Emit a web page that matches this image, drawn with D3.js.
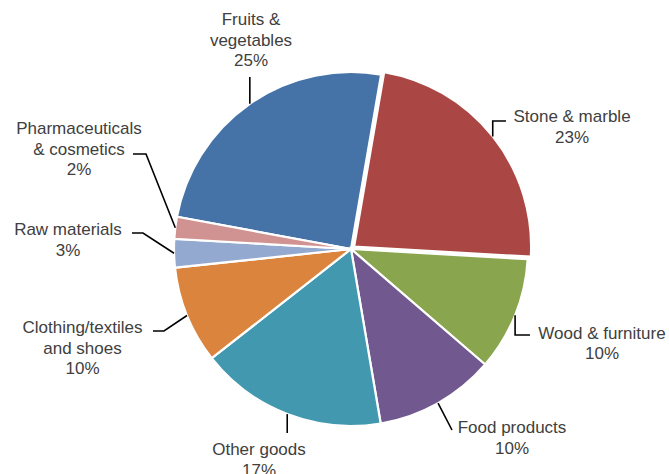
<!DOCTYPE html>
<html><head><meta charset="utf-8">
<script src="https://cdn.jsdelivr.net/npm/d3@7"></script>
<style>html,body{margin:0;padding:0;background:#fff;}svg{display:block;}</style>
</head><body>
<svg id="chart" width="669" height="474"></svg>
<script>
// ---- data ----
const categories = ["Fruits & vegetables","Stone & marble","Wood & furniture","Food products","Other goods","Clothing/textiles and shoes","Raw materials","Pharmaceuticals & cosmetics"];
const values = [24.8, 23.2, 10.4, 11.0, 17.1, 8.9, 2.6, 2.0];
const pctLabels = ["25%","23%","10%","10%","17%","10%","3%","2%"];
const labelLines = [["Fruits &","vegetables"],["Stone & marble"],["Wood & furniture"],["Food products"],["Other goods"],["Clothing/textiles","and shoes"],["Raw materials"],["Pharmaceuticals","& cosmetics"]];
const colors = ["#4572A7","#AA4643","#89A54E","#71588F","#4198AF","#DB843D","#93A9CF","#D19392"];

// ---- layout ----
const cx = 351, cy = 249, R = 177;
const explode = [0, 4, 0, 0, 0, 0, 0, 0];
const startDeg = -79.5;
const labelPos = [
  {x:251, y:25,  leader:[[null,77]]},
  {x:572, y:122, leader:[[null,121],[506,121]]},
  {x:602, y:338.5, leader:[[null,335],[530,335]]},
  {x:512, y:433, leader:[[452,430]]},
  {x:259, y:455, leader:[[null,433]]},
  {x:82.5, y:333, leader:[[164,331],[153,331]]},
  {x:68,  y:235, leader:[[143,233],[132,233]]},
  {x:79,  y:134, leader:[[146,154],[133,154]]}
];
const lineH = 20.5;

const svg = d3.select("#chart");
const g = svg.append("g").attr("transform",`translate(${cx},${cy})`);
const pie = d3.pie().sort(null).value(d=>d)
  .startAngle(startDeg*Math.PI/180).endAngle(startDeg*Math.PI/180 + 2*Math.PI);
const arcs = pie(values);
const arc = d3.arc().innerRadius(0).outerRadius(R);

arcs.forEach((a,i)=>{
  const mid = (a.startAngle+a.endAngle)/2;
  const dx = Math.sin(mid)*explode[i], dy = -Math.cos(mid)*explode[i];
  g.append("path").attr("d", arc(a)).attr("transform",`translate(${dx},${dy})`)
    .attr("fill", colors[i]).attr("stroke","#fff").attr("stroke-width",2.2).attr("stroke-linejoin","miter");
  // leader
  const sx = cx + dx + Math.sin(mid)*R, sy = cy + dy - Math.cos(mid)*R;
  const pts = [[sx,sy]];
  labelPos[i].leader.forEach(p=>pts.push([p[0]===null?sx:p[0], p[1]]));
  svg.append("path").attr("d", d3.line()(pts)).attr("fill","none")
    .attr("stroke","#000").attr("stroke-width",1.6);
  // text
  const lines = labelLines[i].concat([pctLabels[i]]);
  const t = svg.append("text").attr("text-anchor","middle")
    .attr("font-family","'Liberation Sans', Arial, sans-serif").attr("font-size",17)
    .attr("fill","#404040");
  lines.forEach((s,k)=>{
    t.append("tspan").attr("x",labelPos[i].x).attr("y",labelPos[i].y + k*lineH).text(s);
  });
});
</script>
</body></html>
